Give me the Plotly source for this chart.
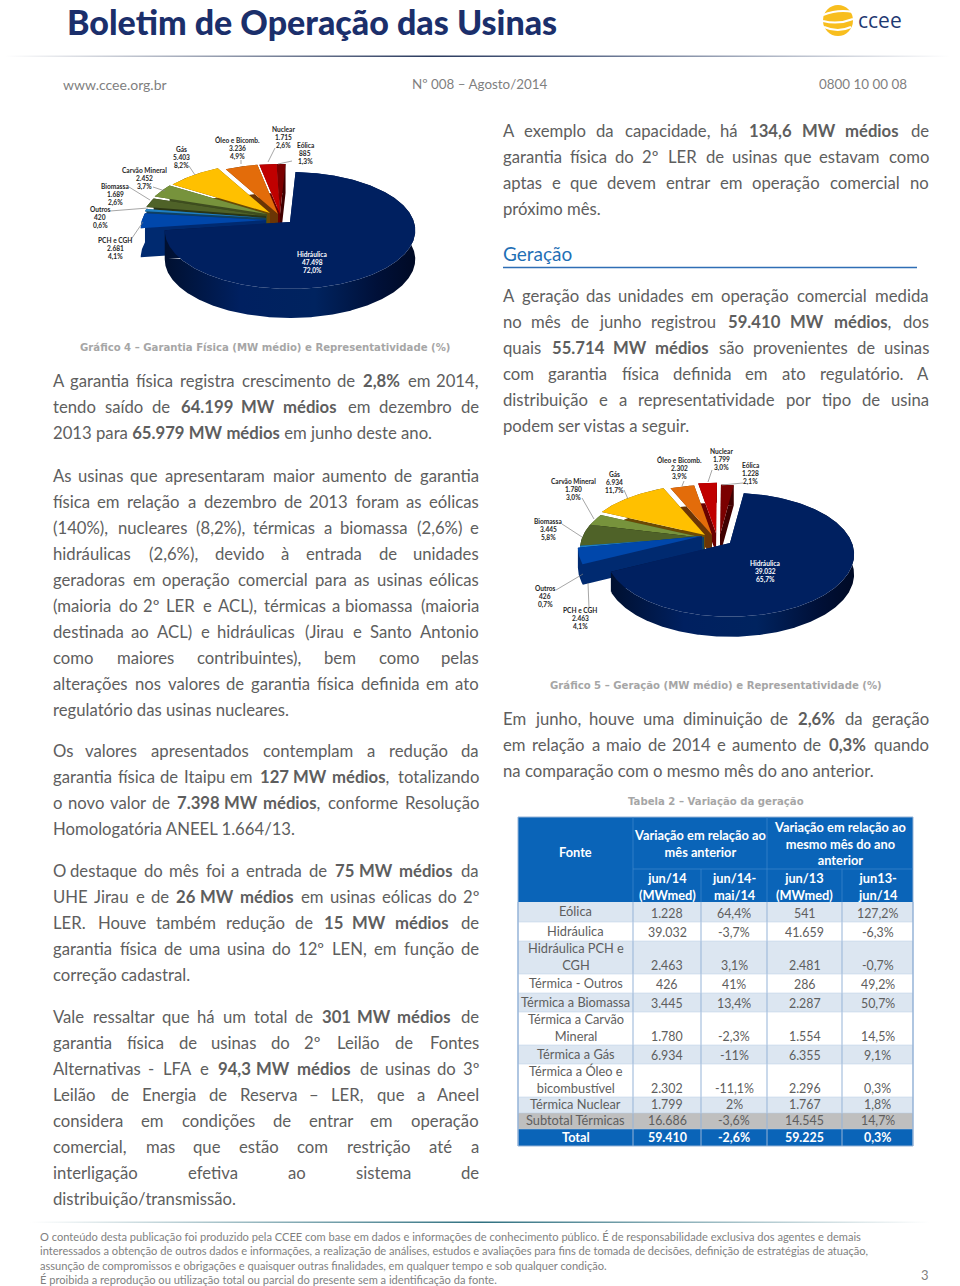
import numpy as np
import plotly.graph_objects as go

# ---- dados dos graficos ----
fontes_g4 = ["Hidráulica", "PCH e CGH", "Outros", "Biomassa", "Carvão Mineral", "Gás", "Óleo e Bicomb.", "Nuclear", "Eólica"]
garantia_mw = [47498, 2681, 420, 1689, 2452, 5403, 3236, 1715, 885]
garantia_pct = [72.0, 4.1, 0.6, 2.6, 3.7, 8.2, 4.9, 2.6, 1.3]
geracao_mw = [39032, 2463, 426, 3445, 1780, 6934, 2302, 1799, 1228]
geracao_pct = [65.7, 4.1, 0.7, 5.8, 3.0, 11.7, 3.9, 3.0, 2.1]

# ---- dados da tabela ----
tab_fontes = ["Eólica", "Hidráulica", "Hidráulica PCH e<br>CGH", "Térmica - Outros", "Térmica a Biomassa",
              "Térmica a Carvão<br>Mineral", "Térmica a Gás", "Térmica a Óleo e<br>bicombustível",
              "Térmica Nuclear", "Subtotal Térmicas", "Total"]
tab_jun14 = ["1.228", "39.032", "2.463", "426", "3.445", "1.780", "6.934", "2.302", "1.799", "16.686", "59.410"]
tab_var_mes = ["64,4%", "-3,7%", "3,1%", "41%", "13,4%", "-2,3%", "-11%", "-11,1%", "2%", "-3,6%", "-2,6%"]
tab_jun13 = ["541", "41.659", "2.481", "286", "2.287", "1.554", "6.355", "2.296", "1.767", "14.545", "59.225"]
tab_var_ano = ["127,2%", "-6,3%", "-0,7%", "49,2%", "50,7%", "14,5%", "9,1%", "0,3%", "1,8%", "14,7%", "0,3%"]

# ---- texto da pagina: (y inicial, linhas); ultima linha de cada paragrafo nao e justificada ----
texto_esq = [
    (381, ["A garantia física registra crescimento de **2,8%** em 2014,",
           "tendo saído de **64.199 MW médios** em dezembro de",
           "2013 para **65.979 MW médios** em junho deste ano."]),
    (476, ["As usinas que apresentaram maior aumento de garantia",
           "física em relação a dezembro de 2013 foram as eólicas",
           "(140%), nucleares (8,2%), térmicas a biomassa (2,6%) e",
           "hidráulicas (2,6%), devido à entrada de unidades",
           "geradoras em operação comercial para as usinas eólicas",
           "(maioria do 2º LER e ACL), térmicas a biomassa (maioria",
           "destinada ao ACL) e hidráulicas (Jirau e Santo Antonio",
           "como maiores contribuintes), bem como pelas",
           "alterações nos valores de garantia física definida em ato",
           "regulatório das usinas nucleares."]),
    (751, ["Os valores apresentados contemplam a redução da",
           "garantia física de Itaipu em **127 MW médios**, totalizando",
           "o novo valor de **7.398 MW médios**, conforme Resolução",
           "Homologatória ANEEL 1.664/13."]),
    (871, ["O destaque do mês foi a entrada de **75 MW médios** da",
           "UHE Jirau e de **26 MW médios** em usinas eólicas do 2º",
           "LER. Houve também redução de **15 MW médios** de",
           "garantia física de uma usina do 12º LEN, em função de",
           "correção cadastral."]),
    (1017, ["Vale ressaltar que há um total de **301 MW médios** de",
            "garantia física de usinas do 2º Leilão de Fontes",
            "Alternativas - LFA e **94,3 MW médios** de usinas do 3º",
            "Leilão de Energia de Reserva – LER, que a Aneel",
            "considera em condições de entrar em operação",
            "comercial, mas que estão com restrição até a",
            "interligação efetiva ao sistema de",
            "distribuição/transmissão."]),
]
texto_dir = [
    (131, ["A exemplo da capacidade, há **134,6 MW médios** de",
           "garantia física do 2º LER de usinas que estavam como",
           "aptas e que devem entrar em operação comercial no",
           "próximo mês."]),
    (296, ["A geração das unidades em operação comercial medida",
           "no mês de junho registrou **59.410 MW médios**, dos",
           "quais **55.714 MW médios** são provenientes de usinas",
           "com garantia física definida em ato regulatório. A",
           "distribuição e a representatividade por tipo de usina",
           "podem ser vistas a seguir."]),
    (719, ["Em junho, houve uma diminuição de **2,6%** da geração",
           "em relação a maio de 2014 e aumento de **0,3%** quando",
           "na comparação com o mesmo mês do ano anterior."]),
]
rodape = [
    "O conteúdo desta publicação foi produzido pela CCEE com base em dados e informações de conhecimento público. É de responsabilidade exclusiva dos agentes e demais",
    "interessados a obtenção de outros dados e informações, a realização de análises, estudos e avaliações para fins de tomada de decisões, definição de estratégias de atuação,",
    "assunção de compromissos e obrigações e quaisquer outras finalidades, em qualquer tempo e sob qualquer condição.",
    "É proibida a reprodução ou utilização total ou parcial do presente sem a identificação da fonte.",
]

# ---- estilo ----
CORPO = "Lato"
CINZA = "#5E5E5E"
AZUL_TAB = "#0A64B8"
cores_fatia = ["#002060", "#0047AB", "#1F7FC4", "#4F6228", "#77933C", "#FFC000", "#E36C0A", "#C00000", "#7B0000"]
cores_lado = ["#001540", "#002A70", "#104060", "#2A3515", "#3E4D1F", "#6B4A05", "#6B3505", "#6A0000", "#400000"]

fig = go.Figure()
anot = []
formas = []


def rotulo(x, y, txt, size=16.7, cor=CINZA, anchor="left", fam=CORPO, **kw):
    fonte = dict(family=fam, size=size, color=cor)
    if "weight" in kw:
        fonte["weight"] = kw.pop("weight")
    anot.append(dict(x=x, y=y, xref="x", yref="y", text=txt, showarrow=False, xanchor=anchor, yanchor="middle",
                     align="center" if anchor == "center" else anchor, borderpad=0, borderwidth=0,
                     font=fonte, **kw))


# larguras aproximadas do Lato, por mil
LARG = dict(zip("abcdefghijklmnopqrstuvwxyz", [506, 565, 474, 565, 520, 341, 510, 555, 244, 245, 504, 244, 826, 555,
                                               578, 565, 565, 383, 430, 360, 555, 500, 750, 490, 500, 450]))


def largura(pal, size, bold=False):
    tot = 0
    for c in pal:
        if c.isdigit():
            tot += 580
        elif c in "áàãâ":
            tot += 506
        elif c in "éê":
            tot += 520
        elif c == "í":
            tot += 244
        elif c in "óõô":
            tot += 578
        elif c == "ú":
            tot += 555
        elif c == "ç":
            tot += 474
        elif c in ",.":
            tot += 220
        elif c in "()":
            tot += 310
        elif c in "-–/º":
            tot += 400
        elif c == "%":
            tot += 800
        elif c.isupper():
            tot += 270 if c == "I" else 780 if c in "MW" else 650
        else:
            tot += LARG.get(c, 500)
    return tot / 1000 * size * (1.1 if bold else 1)


def palavras(linha, size):
    # cada palavra vira (html, largura), respeitando os trechos em negrito
    saida, bold = [], False
    for token in linha.split(" "):
        html, larg = "", 0
        for i, trecho in enumerate(token.split("**")):
            if i > 0:
                bold = not bold
            if trecho:
                html += f"<b>{trecho}</b>" if bold else trecho
                larg += largura(trecho, size, bold)
        saida.append((html, larg))
    return saida


def paragrafos(blocos, x0, x1, size=16.7, passo=26):
    for y0, linhas in blocos:
        for n, linha in enumerate(linhas):
            y = y0 + n * passo
            pal = palavras(linha, size)
            if n == len(linhas) - 1:
                rotulo(x0, y, " ".join(h for h, _ in pal), size)
                continue
            # justifica palavra a palavra
            gap = (x1 - x0 - sum(l for _, l in pal)) / (len(pal) - 1)
            pos = x0
            for k, (h, l) in enumerate(pal):
                if k == 0:
                    rotulo(x0, y, h, size)
                elif k == len(pal) - 1:
                    rotulo(x1, y, h, size, anchor="right")
                else:
                    rotulo(pos + l / 2, y, h, size, anchor="center")
                pos += l + gap


def desenha_pizza(valores, apices, inicio, rx, ry, pk, prof, grad):
    total = sum(valores)
    ang = inicio
    faixas = []
    for v in valores:
        faixas.append((ang, ang + v / total * 360))
        ang += v / total * 360

    def ponto(i, th):
        t = np.radians(th)
        s = 1 - pk * np.cos(t)
        return apices[i][0] + rx * np.sin(t) * s, apices[i][1] - ry * np.cos(t) * s

    # de tras para frente; a fatia 0 (Hidraulica) por ultimo
    for i in range(len(valores) - 1, -1, -1):
        a, b = faixas[i]
        th = np.linspace(a, b, max(6, int(b - a) * 2))
        ax_, ay_ = apices[i]
        xs, ys = ponto(i, th)
        # parede externa + duas paredes radiais
        xl = list(xs) + list(xs[::-1]) + [None, ax_, xs[0], xs[0], ax_, None, ax_, xs[-1], xs[-1], ax_]
        yl = list(ys) + list((ys + prof)[::-1]) + [None, ay_, ys[0], ys[0] + prof, ay_ + prof, None, ay_, ys[-1], ys[-1] + prof, ay_ + prof]
        lado = dict(x=xl, y=yl, mode="lines", fill="toself", line=dict(width=0), hoverinfo="skip")
        if i == 0:
            lado["fillgradient"] = dict(type="horizontal", colorscale=grad)
        else:
            lado["fillcolor"] = cores_lado[i]
        fig.add_trace(go.Scatter(**lado))
        fig.add_trace(go.Scatter(x=[ax_] + list(xs) + [ax_], y=[ay_] + list(ys) + [ay_], mode="lines", fill="toself",
                                 fillcolor=cores_fatia[i], line=dict(width=0), hoverinfo="skip"))


def rotulos_pizza(nomes, mw, pct, pos, lideres):
    for i, nome in enumerate(nomes):
        valor = format(mw[i], ",").replace(",", ".")
        perc = str(pct[i]).replace(".", ",") + "%"
        cor = "#FFFFFF" if i == 0 else "#262626"
        for d, txt in zip([-8.4, 0, 8.4], [nome, valor, perc]):
            rotulo(pos[i][0], pos[i][1] + d, f"<b>{txt}</b>", 6.6, cor, anchor="center")
    xl, yl = [], []
    for (x0, y0, x1, y1) in lideres:
        xl += [x0, x1, None]
        yl += [y0, y1, None]
    fig.add_trace(go.Scatter(x=xl, y=yl, mode="lines", line=dict(color="#7F7F7F", width=0.7), hoverinfo="skip"))


def barra_degrade(x0, x1, y0, y1, escala):
    fig.add_trace(go.Scatter(x=[x0, x1, x1, x0, x0], y=[y0, y0, y1, y1, y0], mode="lines", fill="toself",
                             fillgradient=dict(type="horizontal", colorscale=escala), line=dict(width=0), hoverinfo="skip"))


# cabecalho
barra_degrade(5, 950, 55.5, 57, [[0, "#FFFFFF"], [0.45, "#2A3A5E"], [0.6, "#566585"], [1, "#FFFFFF"]])
rotulo(67, 21, "Boletim de Operação das Usinas", 34, "#1B2F6B", weight=900)
rotulo(63, 84, "www.ccee.org.br", 14, "#7F7F7F")
rotulo(412, 84, "Nº 008 – Agosto/2014", 13.4, "#7F7F7F")
rotulo(907, 84, "0800 10 00 08", 13.4, "#7F7F7F", anchor="right")
rotulo(880, 20, "ccee", 21, "#1F3A73", anchor="center", fam="Open Sans")
formas.append(dict(type="circle", x0=823, x1=853, y0=5, y1=36, fillcolor="#F8BE1E", line=dict(width=0)))
for caminho in ["M 823 15 Q 838 9 853 12", "M 823 21 Q 838 25 853 19", "M 824 27 Q 838 33 851 27"]:
    formas.append(dict(type="path", path=caminho, line=dict(color="#FFFFFF", width=2)))

# graficos
grad_g4 = [[0, "#001030"], [0.3, "#002060"], [0.6, "#00235F"], [0.85, "#001038"], [1, "#000A25"]]
desenha_pizza(garantia_mw,
              [(290, 222), (266, 220), (266, 218), (266, 216), (267, 214), (270, 213), (278, 214), (280, 214), (280, 214)],
              3, 124, 58.5, 0.145, 29, grad_g4)
desenha_pizza(geracao_mw,
              [(730, 543), (702, 536), (704, 537), (704, 538), (704, 538), (705, 535), (712, 535), (716, 533), (720, 535)],
              8, 122, 62, 0.19, 20, grad_g4)

rotulos_pizza(fontes_g4, garantia_mw, garantia_pct,
              [(312, 262), (115, 248), (100, 217), (115, 194), (144, 178), (181, 157), (237, 148), (283, 137), (305, 153)],
              [(130, 241, 143, 222), (110, 211, 148, 208), (129, 187, 150, 200), (153, 187, 165, 191),
               (189, 166, 195, 175), (241, 160, 241, 164), (275, 148, 268, 162), (292, 161, 278, 164)])
rotulos_pizza(fontes_g4, geracao_mw, geracao_pct,
              [(765, 571), (580, 618), (545, 596), (548, 529), (573, 489), (614, 482), (679, 468), (721, 459), (750, 473)],
              [(589, 608, 588, 583), (556, 590, 583, 574), (562, 524, 582, 537), (582, 498, 594, 519),
               (624, 490, 628, 499), (684, 481, 682, 486), (712, 470, 708, 482), (743, 483, 722, 485)])

rotulo(265, 347, "<b>Gráfico 4 – Garantia Física (MW médio) e Representatividade (%)</b>", 10.15, "#A6A6A6", anchor="center", fam="DejaVu Sans")
rotulo(716, 685, "<b>Gráfico 5 – Geração (MW médio) e Representatividade (%)</b>", 10.15, "#A6A6A6", anchor="center", fam="DejaVu Sans")
rotulo(716, 801, "<b>Tabela 2 – Variação da geração</b>", 10.15, "#A6A6A6", anchor="center", fam="DejaVu Sans")

# texto corrido
paragrafos(texto_esq, 53, 479)
paragrafos(texto_dir, 503, 929)
rotulo(503, 253, "Geração", 19, "#1F6FB5")
formas.append(dict(type="line", x0=503, x1=917, y0=267.5, y1=267.5, line=dict(color="#2F6EB5", width=1.5)))

# tabela
col_x = [518, 633, 701, 767, 842, 913]
lin_y = [902, 922, 941, 974, 993, 1012, 1045, 1064, 1097, 1113, 1129, 1146]
TINTA = "#DCE6F1"
fundos = [TINTA, "#FFFFFF", TINTA, "#FFFFFF", TINTA, "#FFFFFF", TINTA, "#FFFFFF", TINTA, "#BFBFBF", AZUL_TAB]
formas.append(dict(type="rect", x0=col_x[0], x1=col_x[-1], y0=817, y1=902, fillcolor=AZUL_TAB, line=dict(width=0)))
for i, cor in enumerate(fundos):
    formas.append(dict(type="rect", x0=col_x[0], x1=col_x[-1], y0=lin_y[i], y1=lin_y[i + 1], fillcolor=cor, line=dict(width=0)))
for x in col_x[:]:
    formas.append(dict(type="line", x0=x, x1=x, y0=902, y1=1146, line=dict(color="#95B3D7", width=1)))
for y in lin_y[1:-1]:
    formas.append(dict(type="line", x0=col_x[0], x1=col_x[-1], y0=y, y1=y, line=dict(color="#B8CCE4", width=0.5)))
formas.append(dict(type="rect", x0=col_x[0], x1=col_x[-1], y0=817, y1=1146, line=dict(color="#95B3D7", width=1)))
for x, y0, y1 in [(633, 817, 902), (767, 817, 902), (701, 869, 902), (842, 869, 902)]:
    formas.append(dict(type="line", x0=x, x1=x, y0=y0, y1=y1, line=dict(color="#3F86CC", width=0.7)))
formas.append(dict(type="line", x0=633, x1=913, y0=869, y1=869, line=dict(color="#3F86CC", width=0.7)))

TAB = 12.8
VAL = 12.4
rotulo(575.5, 852, "<b>Fonte</b>", TAB, "#FFFFFF", anchor="center")
rotulo(700, 843.5, "<b>Variação em relação ao<br>mês anterior</b>", TAB, "#FFFFFF", anchor="center")
rotulo(840, 843.5, "<b>Variação em relação ao<br>mesmo mês do ano<br>anterior</b>", TAB, "#FFFFFF", anchor="center")
for cx, cab in zip([667, 734, 804.5, 877.5], ["jun/14<br>(MWmed)", "jun/14-<br>mai/14", "jun/13<br>(MWmed)", "jun13-<br>jun/14"]):
    rotulo(cx, 886, f"<b>{cab}</b>", TAB, "#FFFFFF", anchor="center")
for i, nome in enumerate(tab_fontes):
    total = i == len(tab_fontes) - 1
    cor = "#FFFFFF" if total else CINZA
    ybase = lin_y[i + 1] - 9
    rotulo(575.5, (lin_y[i] + lin_y[i + 1]) / 2 - 1, f"<b>{nome}</b>" if total else nome, TAB, cor, anchor="center")
    for cx, coluna in zip([667, 734, 804.5, 877.5], [tab_jun14, tab_var_mes, tab_jun13, tab_var_ano]):
        rotulo(cx, ybase, f"<b>{coluna[i]}</b>" if total else coluna[i], VAL, cor, anchor="center")

# rodape
barra_degrade(30, 930, 1221.5, 1223, [[0, "#FFFFFF"], [0.5, "#2F7080"], [1, "#FFFFFF"]])
for y, linha in zip([1236, 1250, 1265, 1279], rodape):
    rotulo(40, y, linha, 11.1, "#7F7F7F")
rotulo(925, 1275, "3", 13, "#7F7F7F", anchor="center")

fig.update_layout(width=960, height=1286, margin=dict(l=0, r=0, t=0, b=0), showlegend=False,
                  paper_bgcolor="white", plot_bgcolor="white", annotations=anot, shapes=formas,
                  xaxis=dict(range=[0, 960], visible=False, fixedrange=True),
                  yaxis=dict(range=[1286, 0], visible=False, fixedrange=True))
fig.write_html("out.html", config=dict(displayModeBar=False), post_script="document.body.style.margin='0';")
